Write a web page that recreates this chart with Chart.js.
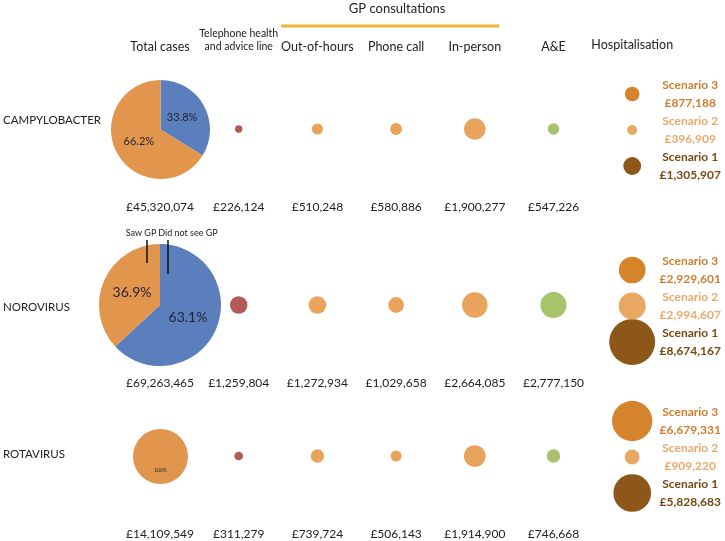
<!DOCTYPE html>
<html><head><meta charset="utf-8">
<script src="https://cdn.jsdelivr.net/npm/chart.js@4.4.1/dist/chart.umd.min.js"></script>
<style>
html,body{margin:0;padding:0;background:#fff}
#wrap{position:relative;width:725px;height:541px;overflow:hidden}
#main{position:absolute;left:0;top:0;z-index:2}
.pie{position:absolute;z-index:1}
</style>
</head><body><div id="wrap"><canvas id="main" width="725" height="541"></canvas></div>
<script>
// ---------- DATA ----------
const diseases = ['CAMPYLOBACTER', 'NOROVIRUS', 'ROTAVIRUS'];
const columns = ['Total cases', ['Telephone health', 'and advice line'], 'Out-of-hours', 'Phone call', 'In-person', 'A&E', 'Hospitalisation'];
const groupTitle = 'GP consultations';
const pieLabels = ['Did not see GP', 'Saw GP'];
const totalCases = [45320074, 69263465, 14109549];
const didNotSeeGP = [33.8, 63.1, 0];
const sawGP = [66.2, 36.9, 100];
const telephone = [226124, 1259804, 311279];
const outOfHours = [510248, 1272934, 739724];
const phoneCall = [580886, 1029658, 506143];
const inPerson = [1900277, 2664085, 1914900];
const aAndE = [547226, 2777150, 746668];
const scenarioNames = ['Scenario 3', 'Scenario 2', 'Scenario 1'];
const hospScenario3 = [877188, 2929601, 6679331];
const hospScenario2 = [396909, 2994607, 909220];
const hospScenario1 = [1305907, 8674167, 5828683];

// ---------- LAYOUT / STYLE ----------
const W = 725, H = 541;
const COL0_X = 160, COL_STEP = 78.7;
const rowY = [129, 305, 456];
const rowLabelY = [120, 307, 454];
const valueDY = 78;
const scenarioDY = [-35, 1, 37];
const BUBBLE_K = 0.0078, PIE_K = 0.00735;
const pieFont = [11, 14, 5];
const FONT = 'Lato, "Open Sans", sans-serif';
const C = {
  text: '#222222', blue: '#5b7fbd', orange: '#e2964d',
  tel: '#b35c57', gp: '#e8a45c', ae: '#a9c36a',
  s3: '#d6842b', s2: '#e9a862', s1: '#8d5719',
  t3: '#d27d2d', t2: '#eaa96a', t1: '#7a4913', line: '#f2b43a'
};
const scenarioColors = [C.s3, C.s2, C.s1];
const scenarioText = [C.t3, C.t2, C.t1];
const hospSeries = [hospScenario3, hospScenario2, hospScenario1];

const xMin = -COL0_X / COL_STEP, xMax = xMin + W / COL_STEP;
const fmt = v => '£' + String(v).replace(/\B(?=(\d{3})+(?!\d))/g, ',');
const rad = v => BUBBLE_K * Math.sqrt(v);
const pts = (col, arr) => arr.map((v, i) => ({ x: col, y: rowY[i], r: rad(v) }));

const datasets = [
  { label: 'Telephone health and advice line', data: pts(1, telephone), backgroundColor: C.tel },
  { label: 'Out-of-hours', data: pts(2, outOfHours), backgroundColor: C.gp },
  { label: 'Phone call', data: pts(3, phoneCall), backgroundColor: C.gp },
  { label: 'In-person', data: pts(4, inPerson), backgroundColor: C.gp },
  { label: 'A&E', data: pts(5, aAndE), backgroundColor: C.ae }
];
hospSeries.forEach((arr, s) => {
  datasets.push({
    label: 'Hospitalisation ' + scenarioNames[s],
    data: arr.map((v, i) => ({ x: 6, y: rowY[i] + scenarioDY[s], r: rad(v) })),
    backgroundColor: scenarioColors[s]
  });
});
datasets.forEach(d => { d.borderWidth = 0; d.clip = false; });

const valueCols = [totalCases, telephone, outOfHours, phoneCall, inPerson, aAndE];

const textPlugin = {
  id: 'texts',
  afterDatasetsDraw(chart) {
    const ctx = chart.ctx, xs = chart.scales.x, ys = chart.scales.y;
    ctx.save();
    ctx.fillStyle = C.text;
    ctx.textAlign = 'center';
    ctx.textBaseline = 'middle';
    // group title + line
    ctx.font = '13px ' + FONT;
    ctx.fillText(groupTitle, (xs.getPixelForValue(2) + xs.getPixelForValue(4)) / 2 + 1, ys.getPixelForValue(9));
    ctx.strokeStyle = C.line; ctx.lineWidth = 3;
    ctx.beginPath();
    ctx.moveTo(xs.getPixelForValue(2 - 0.46), ys.getPixelForValue(26));
    ctx.lineTo(xs.getPixelForValue(4 + 0.31), ys.getPixelForValue(26));
    ctx.stroke();
    // column headers
    columns.forEach((c, i) => {
      const x = xs.getPixelForValue(i);
      if (Array.isArray(c)) {
        ctx.font = '10.5px ' + FONT;
        ctx.fillText(c[0], x, ys.getPixelForValue(34));
        ctx.fillText(c[1], x, ys.getPixelForValue(47));
      } else {
        ctx.font = '12.5px ' + FONT;
        ctx.fillText(c, x, ys.getPixelForValue(i === 6 ? 45 : 47));
      }
    });
    // row labels
    ctx.textAlign = 'left';
    ctx.font = '11.5px ' + FONT;
    diseases.forEach((d, i) => ctx.fillText(d, 3, ys.getPixelForValue(rowLabelY[i])));
    // value labels
    ctx.textAlign = 'center';
    ctx.font = '12px ' + FONT;
    diseases.forEach((d, i) => {
      valueCols.forEach((arr, c) => {
        ctx.fillText(fmt(arr[i]), xs.getPixelForValue(c), ys.getPixelForValue(rowY[i] + valueDY));
      });
    });
    // scenario labels
    ctx.font = 'bold 12px ' + FONT;
    diseases.forEach((d, i) => {
      hospSeries.forEach((arr, s) => {
        const by = rowY[i] + scenarioDY[s];
        const x = xs.getPixelForValue(6) + 58;
        ctx.fillStyle = scenarioText[s];
        ctx.fillText(scenarioNames[s], x, ys.getPixelForValue(by - 9));
        ctx.fillText(fmt(arr[i]), x, ys.getPixelForValue(by + 9));
      });
    });
    ctx.restore();
  }
};

Chart.defaults.font.family = FONT;
const main = new Chart(document.getElementById('main'), {
  type: 'bubble',
  data: { datasets },
  options: {
    responsive: false, animation: false, events: [],
    layout: { padding: 0, autoPadding: false },
    plugins: { legend: { display: false }, tooltip: { enabled: false } },
    scales: {
      x: { type: 'linear', min: xMin, max: xMax, display: false },
      y: { type: 'linear', min: 0, max: H, reverse: true, display: false }
    }
  },
  plugins: [textPlugin]
});

// ---------- PIES ----------
const wrap = document.getElementById('wrap');
diseases.forEach((d, i) => {
  const r = PIE_K * Math.sqrt(totalCases[i]);
  const cx = main.scales.x.getPixelForValue(0), cy = main.scales.y.getPixelForValue(rowY[i]);
  const pad = i === 1 ? 80 : 2;
  const size = Math.round(2 * r + 2 * pad);
  const cv = document.createElement('canvas');
  cv.className = 'pie';
  cv.width = size; cv.height = size;
  cv.style.left = (cx - size / 2) + 'px';
  cv.style.top = (cy - size / 2) + 'px';
  wrap.appendChild(cv);
  const pieText = {
    id: 'pieText',
    afterDatasetsDraw(chart) {
      const ctx = chart.ctx, meta = chart.getDatasetMeta(0);
      ctx.save();
      ctx.fillStyle = '#1e2436';
      ctx.textAlign = 'center'; ctx.textBaseline = 'middle';
      ctx.font = pieFont[i] + 'px ' + FONT;
      meta.data.forEach((arc, k) => {
        const v = chart.data.datasets[0].data[k];
        if (!v) return;
        const p = arc.getCenterPoint();
        ctx.fillText(v.toFixed(v === 100 ? 0 : 1) + '%', p.x, p.y);
      });
      if (i === 1) {
        const a = chart.chartArea, px = (a.left + a.right) / 2, py = (a.top + a.bottom) / 2;
        ctx.font = '9px ' + FONT;
        ctx.fillStyle = C.text;
        ctx.fillText(pieLabels[1], px - 19, py - 72);
        ctx.fillText(pieLabels[0], px + 28, py - 72);
        ctx.strokeStyle = '#111'; ctx.lineWidth = 1.5;
        ctx.beginPath();
        ctx.moveTo(px - 13, py - 65); ctx.lineTo(px - 13, py - 42);
        ctx.moveTo(px + 8, py - 65); ctx.lineTo(px + 8, py - 31);
        ctx.stroke();
      }
      ctx.restore();
    }
  };
  new Chart(cv, {
    type: 'pie',
    data: { labels: pieLabels, datasets: [{ data: [didNotSeeGP[i], sawGP[i]], backgroundColor: [C.blue, C.orange], borderWidth: 0 }] },
    options: {
      responsive: false, animation: false, events: [],
      layout: { padding: pad },
      plugins: { legend: { display: false }, tooltip: { enabled: false } }
    },
    plugins: [pieText]
  });
});
</script>
</body></html>
